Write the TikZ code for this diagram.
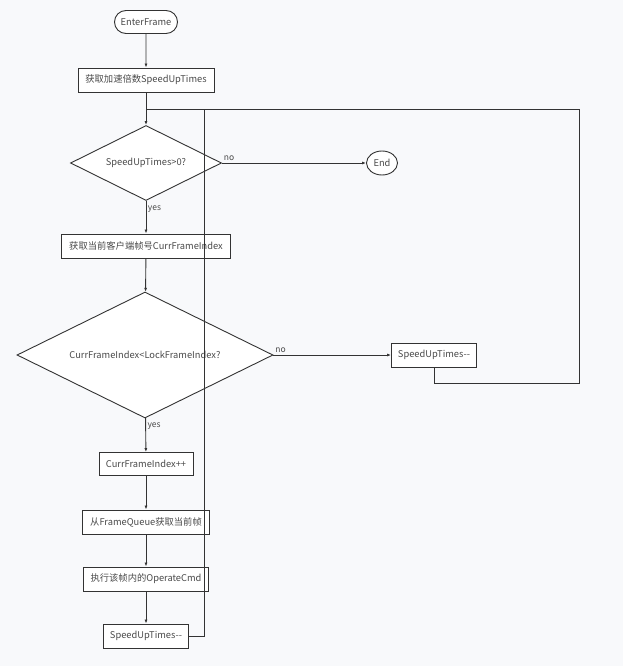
\documentclass[tikz,border=0pt]{standalone}
\usepackage{fontspec}
\setmainfont{Noto Sans CJK SC}
\usetikzlibrary{shapes.geometric,shapes.misc,arrows.meta}

\definecolor{linecol}{HTML}{333333}
\definecolor{textcol}{HTML}{4A4A4A}
\definecolor{bgcol}{HTML}{F8F9FB}

\begin{document}
\begin{tikzpicture}[x=1pt,y=-1pt,
    font=\fontsize{9.3}{11}\selectfont, text=textcol,
    >={Latex[length=4pt,width=3pt]},
    line/.style={draw=linecol, line width=0.9pt},
    arr/.style={line, ->},
    box/.style={line, rectangle, fill=white, inner sep=0pt, minimum height=24pt},
    term/.style={line, rounded rectangle, fill=white, inner sep=0pt, minimum height=23pt},
    endterm/.style={line, ellipse, fill=white, inner sep=0pt},
    decision/.style={line, diamond, aspect=2, fill=white, inner sep=0pt},
    lbl/.style={inner sep=1.5pt, font=\fontsize{8.5}{10}\selectfont},
    yeslbl/.style={lbl, anchor=north west, yshift=-3pt}]

    %Background
    \fill[bgcol] (0,0) rectangle (623,666);
    \useasboundingbox (0,0) rectangle (623,666);

    %Nodes
    \node[term, minimum width=63pt] (enter) at (146,22) {EnterFrame};
    \node[box, minimum width=136pt] (getspeed) at (146,80) {获取加速倍数SpeedUpTimes};
    \node[decision, minimum width=151pt, minimum height=75pt] (speedchk) at (146,163) {SpeedUpTimes>0?};
    \node[endterm, minimum width=31pt, minimum height=24pt] (endnode) at (382,163) {End};
    \node[box, minimum width=169pt] (getidx) at (146,246) {获取当前客户端帧号CurrFrameIndex};
    \node[decision, minimum width=256pt, minimum height=126pt] (idxchk) at (145,355) {CurrFrameIndex<LockFrameIndex?};
    \node[box, minimum width=85pt] (speeddec) at (434,355) {SpeedUpTimes-{}-};
    \node[box, minimum width=94pt, minimum height=23pt] (idxinc) at (146,464) {CurrFrameIndex++};
    \node[box, minimum width=127pt] (getframe) at (146,522) {从FrameQueue获取当前帧};
    \node[box, minimum width=125pt] (runcmd) at (146,579) {执行该帧内的OperateCmd};
    \node[box, minimum width=85pt] (speeddec2) at (146,636) {SpeedUpTimes-{}-};

    %Loop corners
    \coordinate (join) at (146,109);
    \coordinate (loopL) at (204,109);
    \coordinate (loopR) at (579,383);

    %Arrows
    \draw[arr] (enter) -- (getspeed);
    \draw[arr] (getspeed) -- (speedchk);
    \draw[arr] (speedchk) -- node[yeslbl, at start] {yes} (getidx);
    \draw[arr] (speedchk) -- node[lbl, anchor=south west, at start] {no} (endnode);
    \draw[arr] (getidx) -- (idxchk);
    \draw[arr] (idxchk) -- node[yeslbl, at start] {yes} (idxinc);
    \draw[arr] (idxchk) -- node[lbl, anchor=south west, at start] {no} (speeddec);
    \draw[arr] (idxinc) -- (getframe);
    \draw[arr] (getframe) -- (runcmd);
    \draw[arr] (runcmd) -- (speeddec2);

    %Loops back
    \draw[line] (speeddec.south) |- (loopR) |- (join);
    \draw[line] (speeddec2.east) -| (loopL);
\end{tikzpicture}
\end{document}
